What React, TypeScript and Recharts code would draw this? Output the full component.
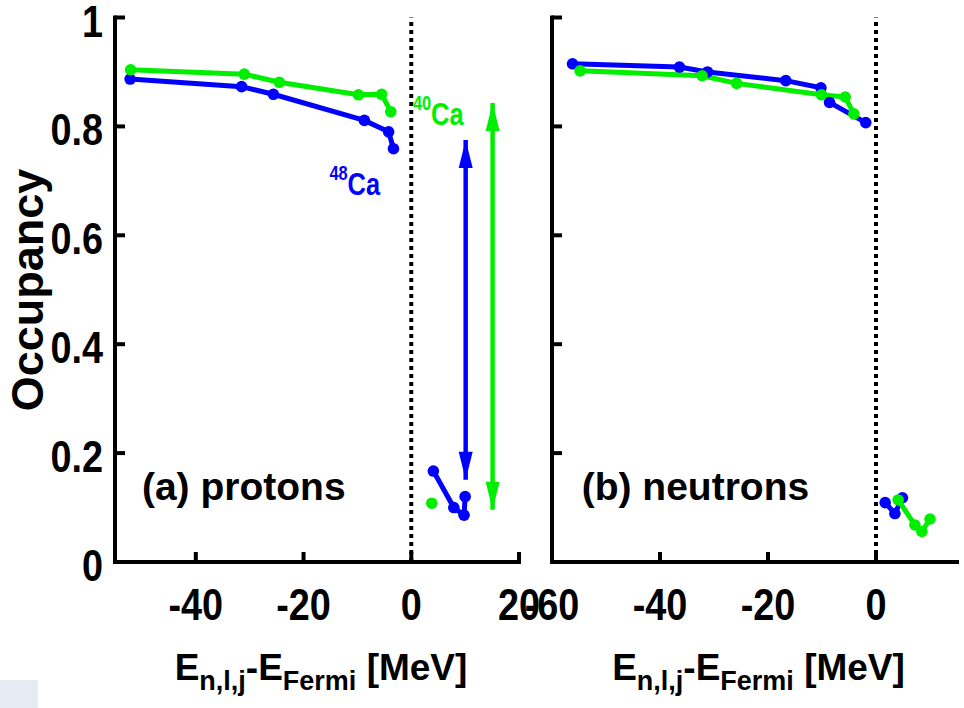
import { LineChart, Line, XAxis, YAxis, ReferenceLine, ReferenceDot } from 'recharts'

type Pt = { e: number; occ: number }

// (a) protons: hole states (below Fermi) and particle states (above)
const protonHoles48: Pt[] = [
  { e: -52.2, occ: 0.887 },
  { e: -31.5, occ: 0.873 },
  { e: -25.6, occ: 0.859 },
  { e: -8.7, occ: 0.811 },
  { e: -4.2, occ: 0.79 },
  { e: -3.3, occ: 0.759 },
]
const protonHoles40: Pt[] = [
  { e: -52.1, occ: 0.904 },
  { e: -31.0, occ: 0.896 },
  { e: -24.5, occ: 0.881 },
  { e: -9.8, occ: 0.858 },
  { e: -5.5, occ: 0.859 },
  { e: -3.8, occ: 0.827 },
]
const protonParts48: Pt[] = [
  { e: 4.1, occ: 0.167 },
  { e: 7.9, occ: 0.1 },
  { e: 9.8, occ: 0.086 },
  { e: 10.0, occ: 0.12 },
]
const protonParts40: Pt[] = [{ e: 3.8, occ: 0.108 }]
// depletion arrows
const protonGap48: Pt[] = [
  { e: 10.1, occ: 0.775 },
  { e: 10.1, occ: 0.151 },
]
const protonGap40: Pt[] = [
  { e: 15.1, occ: 0.843 },
  { e: 15.1, occ: 0.096 },
]

// (b) neutrons
const neutronHoles48: Pt[] = [
  { e: -56.2, occ: 0.915 },
  { e: -36.4, occ: 0.909 },
  { e: -31.2, occ: 0.9 },
  { e: -16.7, occ: 0.884 },
  { e: -10.2, occ: 0.871 },
  { e: -8.6, occ: 0.844 },
  { e: -1.9, occ: 0.807 },
]
const neutronHoles40: Pt[] = [
  { e: -54.8, occ: 0.902 },
  { e: -32.2, occ: 0.893 },
  { e: -25.8, occ: 0.879 },
  { e: -10.1, occ: 0.858 },
  { e: -5.7, occ: 0.854 },
  { e: -4.1, occ: 0.823 },
]
const neutronParts48: Pt[] = [
  { e: 1.7, occ: 0.109 },
  { e: 3.5, occ: 0.089 },
  { e: 4.9, occ: 0.118 },
]
const neutronParts40: Pt[] = [
  { e: 4.1, occ: 0.114 },
  { e: 7.2, occ: 0.068 },
  { e: 8.5, occ: 0.056 },
  { e: 10.0, occ: 0.079 },
]

const occTicks = [0, 0.2, 0.4, 0.6, 0.8, 1]
const protonETicks = [-40, -20, 0, 20]
const neutronETicks = [-60, -40, -20, 0]
const protonDomain: [number, number] = [-55, 20]
const neutronDomain: [number, number] = [-60, 15]

const BLUE = '#0000ff'
const GREEN = '#00ee00'
const FONT = "'Liberation Sans', Arial, Helvetica, sans-serif"
const H = 708
const TICK = 10

const axisLine = { stroke: '#000', strokeWidth: 4, strokeLinecap: 'square' as const }

// gnuplot-style ticks: marks point into the frame, drawn by the tick renderer itself
const tickText = (x: number, y: number, anchor: string, value: any) => (
  <text
    transform={`translate(${x},${y}) scale(0.86,1)`}
    textAnchor={anchor}
    fontSize={44}
    fontWeight="bold"
    fontFamily={FONT}
    fill="#000"
  >
    {value}
  </text>
)

const BottomTick = ({ x, y, payload }: any) => (
  <g>
    <line x1={x} x2={x} y1={y} y2={y - TICK} stroke="#000" strokeWidth={4} />
    {tickText(x, y + 58, 'middle', payload.value)}
  </g>
)
const TopTick = ({ x, y }: any) => (
  <line x1={x} x2={x} y1={y} y2={y + TICK} stroke="#000" strokeWidth={4} />
)
const LeftTick = ({ x, y, payload, labels }: any) => (
  <g>
    <line x1={x} x2={x + TICK} y1={y} y2={y} stroke="#000" strokeWidth={4} />
    {labels ? tickText(x - 12, y + 19, 'end', payload.value) : null}
  </g>
)
const RightTick = ({ x, y }: any) => (
  <line x1={x} x2={x - TICK} y1={y} y2={y} stroke="#000" strokeWidth={4} />
)

const XTitle = (props: any) => {
  const vb = props.viewBox
  const cx = vb.x + vb.width / 2 + 4
  return (
    <text x={cx} y={680} textAnchor="middle" fontWeight="bold" fontFamily={FONT} fontSize={37} fill="#000">
      E<tspan fontSize={27} dy={10}>n,l,j</tspan>
      <tspan dy={-10}>-E</tspan>
      <tspan fontSize={27} dy={10}>Fermi</tspan>
      <tspan dy={-10}> [MeV]</tspan>
    </text>
  )
}

const YTitle = () => (
  <text
    transform="translate(43,290) rotate(-90)"
    textAnchor="middle"
    fontWeight="bold"
    fontFamily={FONT}
    fontSize={45}
    fill="#000"
  >
    Occupancy
  </text>
)

const panelText = (label: string) => (props: any) => (
  <text x={props.viewBox.x} y={props.viewBox.y} fontWeight="bold" fontFamily={FONT} fontSize={39} fill="#000">
    {label}
  </text>
)

const isotope = (mass: string, color: string) => (props: any) => (
  <text
    transform={`translate(${props.viewBox.x},${props.viewBox.y}) scale(0.82,1)`}
    fontWeight="bold"
    fontFamily={FONT}
    fontSize={31}
    fill={color}
  >
    <tspan fontSize={20} dy={-15}>{mass}</tspan>
    <tspan dy={15}>Ca</tspan>
  </text>
)

const arrowHead = (color: string) => (props: any) => {
  const { cx, cy, index } = props
  const w = 7
  const l = 28
  const s = index === 0 ? 1 : -1
  const d = `M${cx},${cy} L${cx - w},${cy + s * l} L${cx + w},${cy + s * l} Z`
  return <path key={`ah-${index}`} d={d} fill={color} />
}

const series = (data: Pt[], color: string, key: string) => (
  <Line
    key={key}
    data={data}
    dataKey="occ"
    stroke={color}
    strokeWidth={5}
    dot={{ r: 5.8, fill: color, stroke: color, strokeWidth: 0 }}
    activeDot={false}
    isAnimationActive={false}
  />
)

function Frame({
  domain,
  eTicks,
  showYLabels,
}: {
  domain: [number, number]
  eTicks: number[]
  showYLabels: boolean
}) {
  return [
    <XAxis
      key="xb"
      dataKey="e"
      type="number"
      domain={domain}
      allowDataOverflow
      ticks={eTicks}
      interval={0}
      height={146}
      tickSize={0}
      tickMargin={0}
      tick={<BottomTick />}
      axisLine={axisLine}
      tickLine={false}
      label={XTitle}
    />,
    <XAxis
      key="xt"
      xAxisId="t"
      orientation="top"
      type="number"
      domain={domain}
      allowDataOverflow
      ticks={eTicks}
      interval={0}
      height={0}
      tickSize={0}
      tickMargin={0}
      tick={<TopTick />}
      axisLine={axisLine}
      tickLine={false}
    />,
    <YAxis
      key="yl"
      type="number"
      domain={[0, 1]}
      allowDataOverflow
      ticks={occTicks}
      interval={0}
      width={showYLabels ? 115 : 22}
      tickSize={0}
      tickMargin={0}
      tick={<LeftTick labels={showYLabels} />}
      axisLine={axisLine}
      tickLine={false}
      label={showYLabels ? YTitle : undefined}
    />,
    <YAxis
      key="yr"
      yAxisId="r"
      orientation="right"
      type="number"
      domain={[0, 1]}
      allowDataOverflow
      ticks={occTicks}
      interval={0}
      width={0}
      tickSize={0}
      tickMargin={0}
      tick={<RightTick />}
      axisLine={axisLine}
      tickLine={false}
    />,
    <ReferenceLine key="fermi" x={0} stroke="#000" strokeWidth={4} strokeDasharray="4 4" />,
  ]
}

export default function App() {
  return (
    <div style={{ position: 'absolute', left: 0, top: 0, width: 964, height: H, background: '#fff' }}>
      <style>{`.recharts-surface{overflow:visible}`}</style>
      <div style={{ position: 'absolute', left: 0, top: 680, width: 38, height: 28, background: '#e6ebf4' }} />
      <div style={{ position: 'absolute', left: 0, top: 0 }}>
        <LineChart width={530} height={H} margin={{ top: 17.5, right: 11, left: 0, bottom: 0 }}>
          {Frame({ domain: protonDomain, eTicks: protonETicks, showYLabels: true })}
          {series(protonHoles48, BLUE, 'ph48')}
          {series(protonHoles40, GREEN, 'ph40')}
          {series(protonParts48, BLUE, 'pp48')}
          {series(protonParts40, GREEN, 'pp40')}
          <Line
            data={protonGap48}
            dataKey="occ"
            stroke={BLUE}
            strokeWidth={4.5}
            dot={arrowHead(BLUE)}
            activeDot={false}
            isAnimationActive={false}
          />
          <Line
            data={protonGap40}
            dataKey="occ"
            stroke={GREEN}
            strokeWidth={4.5}
            dot={arrowHead(GREEN)}
            activeDot={false}
            isAnimationActive={false}
          />
          <ReferenceDot x={0.3} y={0.803} r={0} fill="none" stroke="none" label={isotope('40', GREEN)} />
          <ReferenceDot x={-15.2} y={0.674} r={0} fill="none" stroke="none" label={isotope('48', BLUE)} />
          <ReferenceDot x={-50} y={0.114} r={0} fill="none" stroke="none" label={panelText('(a) protons')} />
        </LineChart>
      </div>
      <div style={{ position: 'absolute', left: 530, top: 0 }}>
        <LineChart width={434} height={H} margin={{ top: 17.5, right: 7, left: 0, bottom: 0 }}>
          {Frame({ domain: neutronDomain, eTicks: neutronETicks, showYLabels: false })}
          {series(neutronHoles48, BLUE, 'nh48')}
          {series(neutronHoles40, GREEN, 'nh40')}
          {series(neutronParts48, BLUE, 'np48')}
          {series(neutronParts40, GREEN, 'np40')}
          <ReferenceDot x={-54.5} y={0.114} r={0} fill="none" stroke="none" label={panelText('(b) neutrons')} />
        </LineChart>
      </div>
    </div>
  )
}
